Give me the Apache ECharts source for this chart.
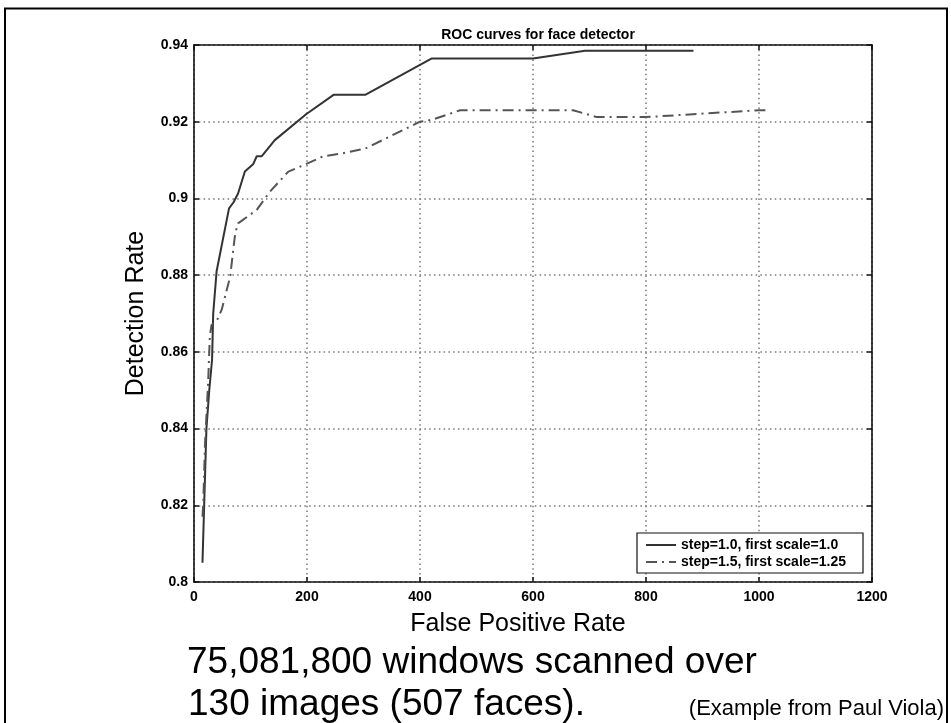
<!DOCTYPE html>
<html>
<head>
<meta charset="utf-8">
<script src="https://cdn.jsdelivr.net/npm/echarts@6/dist/echarts.min.js"></script>
<style>
html,body{margin:0;padding:0;background:#fff;}
#chart{width:951px;height:723px;}
</style>
</head>
<body>
<div id="chart"></div>
<script>
// ---- data ----
const chartTitle = 'ROC curves for face detector';
const xAxisName = 'False Positive Rate';
const yAxisName = 'Detection Rate';
const xTicks = [0, 200, 400, 600, 800, 1000, 1200];
const yTicks = [0.8, 0.82, 0.84, 0.86, 0.88, 0.9, 0.92, 0.94];
const seriesNames = ['step=1.0, first scale=1.0', 'step=1.5, first scale=1.25'];

const solidX = [15, 18, 22, 27, 32, 34, 40, 62, 70, 78, 90, 105, 111, 120, 143, 199, 247, 303, 421, 600, 692, 884];
const solidY = [0.805, 0.82, 0.84, 0.85, 0.858, 0.87, 0.881, 0.8974, 0.899, 0.9013, 0.907, 0.909, 0.911, 0.911, 0.9152, 0.922, 0.927, 0.927, 0.9365, 0.9365, 0.9385, 0.9385];

const dashX = [15, 16.5, 19.5, 25, 28, 31, 40, 49, 64, 73, 78, 111, 134, 167, 199, 229, 264, 303, 400, 421, 471, 671, 713, 800, 1000, 1013];
const dashY = [0.817, 0.821, 0.836, 0.852, 0.864, 0.867, 0.868, 0.871, 0.8796, 0.891, 0.8935, 0.897, 0.9017, 0.907, 0.909, 0.911, 0.9118, 0.913, 0.92, 0.9205, 0.923, 0.923, 0.9212, 0.9212, 0.923, 0.923];

const noteLine1 = '75,081,800 windows scanned over';
const noteLine2 = '130 images (507 faces).';
const noteCredit = '(Example from Paul Viola)';

// ---- chart ----
const FONT = '"Liberation Sans", Arial, Helvetica, sans-serif';
const xMin = xTicks[0], xMax = xTicks[xTicks.length - 1], xStep = xTicks[1] - xTicks[0];
const yMin = yTicks[0], yMax = yTicks[yTicks.length - 1], yStep = +(yTicks[1] - yTicks[0]).toFixed(4);

const toPairs = (xs, ys) => xs.map((x, i) => [x, ys[i]]);
const plainNum = v => String(+v.toFixed(4));

const tickLabel = { fontFamily: FONT, fontSize: 14, fontWeight: 'bold', color: '#000', formatter: plainNum };
const axisLineStyle = { show: true, onZero: false, lineStyle: { color: '#111', width: 1.6 } };
const tickStyle = { show: true, inside: true, length: 5, lineStyle: { color: '#111', width: 1.5 } };
const gridDots = { show: true, lineStyle: { color: '#777', width: 1.5, type: [1.5, 3.3] } };

const chart = echarts.init(document.getElementById('chart'), null, { renderer: 'canvas' });
chart.setOption({
  backgroundColor: '#fff',
  animation: false,
  title: {
    text: chartTitle,
    left: 533, top: 23, textAlign: 'center',
    textStyle: { fontFamily: FONT, fontSize: 14, fontWeight: 'bold', color: '#000' }
  },
  grid: { left: 194, right: 79, top: 45, bottom: 141, containLabel: false, outerBoundsMode: 'none' },
  legend: {
    orient: 'vertical',
    left: 637, top: 533,
    padding: [5, 17, 4, 8],
    itemWidth: 30, itemHeight: 14, itemGap: 3, itemTextGap: 8,
    borderColor: '#111', borderWidth: 1.2, backgroundColor: '#fff', borderRadius: 0,
    itemStyle: { opacity: 0 },
    textStyle: { fontFamily: FONT, fontSize: 14, fontWeight: 'bold', color: '#000' },
    data: seriesNames
  },
  xAxis: [{
    type: 'value', position: 'bottom', min: xMin, max: xMax, interval: xStep,
    name: xAxisName, nameLocation: 'middle', nameGap: 30, nameMoveOverlap: false,
    nameTextStyle: { fontFamily: FONT, fontSize: 25, color: '#000', padding: [0, 30, 0, 0] },
    axisLine: axisLineStyle, axisTick: tickStyle,
    axisLabel: Object.assign({ margin: 8 }, tickLabel),
    splitLine: gridDots
  }, {
    type: 'value', position: 'top', min: xMin, max: xMax, interval: xStep,
    axisLine: axisLineStyle, axisTick: tickStyle,
    axisLabel: { show: false }, splitLine: { show: false }
  }],
  yAxis: [{
    type: 'value', position: 'left', min: yMin, max: yMax, interval: yStep,
    name: yAxisName, nameLocation: 'middle', nameGap: 45, nameRotate: 90, nameMoveOverlap: false,
    nameTextStyle: { fontFamily: FONT, fontSize: 25, color: '#000' },
    axisLine: axisLineStyle, axisTick: tickStyle,
    axisLabel: Object.assign({ margin: 6 }, tickLabel),
    splitLine: gridDots
  }, {
    type: 'value', position: 'right', min: yMin, max: yMax, interval: yStep,
    axisLine: axisLineStyle, axisTick: tickStyle,
    axisLabel: { show: false }, splitLine: { show: false }
  }],
  series: [{
    name: seriesNames[0], type: 'line', xAxisIndex: 0, yAxisIndex: 0,
    data: toPairs(solidX, solidY), symbol: 'none', smooth: false,
    lineStyle: { color: '#333', width: 2, type: 'solid' },
    itemStyle: { color: '#333' }
  }, {
    name: seriesNames[1], type: 'line', xAxisIndex: 0, yAxisIndex: 0,
    data: toPairs(dashX, dashY), symbol: 'none', smooth: false,
    lineStyle: { color: '#555', width: 2, type: [11, 5, 2, 5] },
    itemStyle: { color: '#555' }
  }],
  graphic: [{
    type: 'rect', silent: true, z: 100,
    shape: { x: 5, y: 8.5, width: 942, height: 740 },
    style: { fill: 'none', stroke: '#000', lineWidth: 2 }
  }, {
    type: 'text', left: 187, top: 662 - 18, z: 100,
    style: { text: noteLine1, font: '37px ' + FONT, fill: '#000' }
  }, {
    type: 'text', left: 188, top: 704 - 18, z: 100,
    style: { text: noteLine2, font: '37px ' + FONT, fill: '#000' }
  }, {
    type: 'text', right: 7, top: 709 - 11, z: 100,
    style: { text: noteCredit, font: '22px ' + FONT, fill: '#000' }
  }]
});
</script>
</body>
</html>
